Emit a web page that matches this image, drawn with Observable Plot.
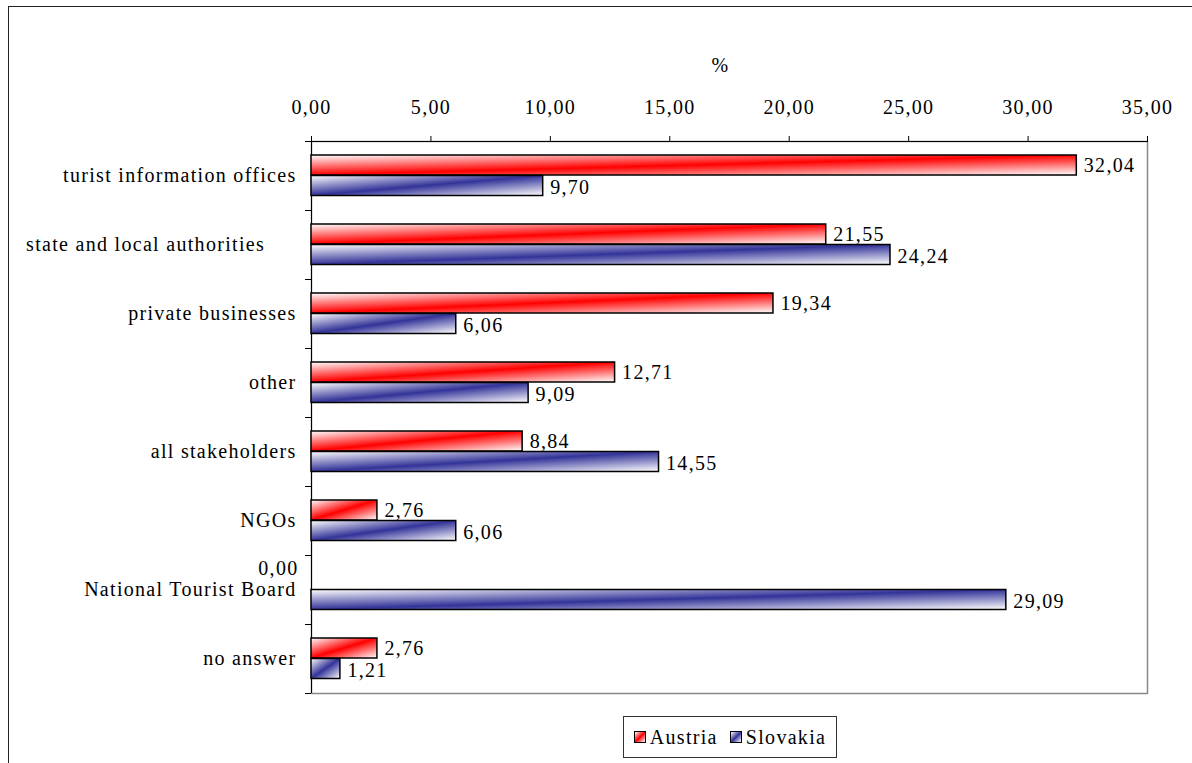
<!DOCTYPE html>
<html>
<head>
<meta charset="utf-8">
<script src="https://cdn.jsdelivr.net/npm/d3@7"></script>
<script src="https://cdn.jsdelivr.net/npm/@observablehq/plot@0.6"></script>
<style>
  html, body { margin: 0; padding: 0; background: #fff; overflow: hidden; }
  body { width: 1192px; height: 763px; position: relative; font-family: "Liberation Serif", "Times New Roman", serif; }
  #outer { position: absolute; left: 8px; top: 6px; width: 1300px; height: 900px; border: 1.5px solid #222; box-sizing: border-box; }
  #chart { position: absolute; left: 0; top: 0; }
  #chart svg text { white-space: pre; letter-spacing: 1.3px; }
  #legend { position: absolute; left: 623px; top: 716px; width: 214px; height: 42px; box-sizing: border-box;
            border: 1px solid #333; display: flex; align-items: center; justify-content: center; gap: 12px;
            font-size: 20px; letter-spacing: 1.3px; color: #000; }
  .item { display: flex; align-items: center; gap: 4px; }
  .sw { width: 12px; height: 12px; border: 1.5px solid #000; box-sizing: border-box; }
</style>
</head>
<body>
<div id="outer"></div>
<div id="chart"></div>
<div id="legend"></div>
<script>
// Who is responsible: share of answers (%) by country
const categories = [
  "turist information offices",
  "state and local authorities     ",
  "private businesses",
  "other",
  "all stakeholders",
  "NGOs",
  "National Tourist Board",
  "no answer"
];
const austria = [32.04, 21.55, 19.34, 12.71, 8.84, 2.76, 0.00, 2.76];
const slovakia = [9.70, 24.24, 6.06, 9.09, 14.55, 6.06, 29.09, 1.21];
const series = ["Austria", "Slovakia"];
const seriesColors = ["#ff0000", "#333399"];
const xTicks = [0, 5, 10, 15, 20, 25, 30, 35];

const rows = [];
categories.forEach((c, i) => {
  rows.push({category: c, series: "Austria", value: austria[i]});
  rows.push({category: c, series: "Slovakia", value: slovakia[i]});
});
const at = rows.filter(d => d.series === "Austria");
const sk = rows.filter(d => d.series === "Slovakia");
const fmt = v => v.toFixed(2).replace(".", ",");

// gradient fills: white - colour - white along the bar's diagonal
const gradId = s => "grad-" + s.toLowerCase();
const defs = () => {
  const g = d3.create("svg:defs");
  series.forEach((s, i) => {
    const lg = g.append("linearGradient").attr("id", gradId(s))
      .attr("x1", 0).attr("y1", 0).attr("x2", 1).attr("y2", 1);
    lg.append("stop").attr("offset", "0%").attr("stop-color", "#ffffff");
    lg.append("stop").attr("offset", "50%").attr("stop-color", seriesColors[i]);
    lg.append("stop").attr("offset", "100%").attr("stop-color", "#ffffff");
  });
  return g.node();
};

const plot = Plot.plot({
  width: 1192,
  height: 700,
  marginLeft: 311,
  marginRight: 45,
  marginTop: 141,
  marginBottom: 7,
  style: {fontFamily: "'Liberation Serif', 'Times New Roman', serif", fontSize: "20px", color: "#000", background: "transparent"},
  x: {domain: [0, 35], axis: null},
  y: {domain: categories, padding: 0, axis: null},
  marks: [
    defs,
    Plot.frame({stroke: "#888", strokeWidth: 1.5}),
    // top value axis
    Plot.axisX({anchor: "top", ticks: xTicks, tickFormat: fmt, tickSize: 6, tickPadding: 22, label: null, stroke: "#000"}),
    Plot.frame({anchor: "top", stroke: "#000", strokeWidth: 1}),
    Plot.text(["%"], {frameAnchor: "top", dx: -9, dy: -84}),
    // category axis: labels at band centres, ticks at band edges
    Plot.axisY({anchor: "left", tickSize: 0, tickPadding: 15, label: null}),
    Plot.axisY({anchor: "left", tickSize: 6, text: null, dy: -34.5, label: null}),
    Plot.axisY(categories.slice(-1), {anchor: "left", tickSize: 6, text: null, dy: 34.5, label: null}),
    Plot.ruleX([0], {stroke: "#000", strokeWidth: 1}),
    // bars
    Plot.barX(at.filter(d => d.value > 0), {x: "value", y: "category", insetTop: 14, insetBottom: 35,
      fill: `url(#${gradId("Austria")})`, stroke: "#000", strokeWidth: 1.5}),
    Plot.barX(sk.filter(d => d.value > 0), {x: "value", y: "category", insetTop: 34.5, insetBottom: 14.5,
      fill: `url(#${gradId("Slovakia")})`, stroke: "#000", strokeWidth: 1.5}),
    // value labels
    Plot.text(at.filter(d => d.value > 0), {x: "value", y: "category", text: d => fmt(d.value),
      textAnchor: "start", dx: 7, dy: -10}),
    Plot.text(at.filter(d => d.value === 0), {x: "value", y: "category", text: d => fmt(d.value),
      textAnchor: "end", dx: -13, dy: -21}),
    Plot.text(sk, {x: "value", y: "category", text: d => fmt(d.value),
      textAnchor: "start", dx: 7, dy: 12})
  ]
});
document.getElementById("chart").appendChild(plot);

// legend
const legend = d3.select("#legend");
series.forEach(s => {
  const it = legend.append("div").attr("class", "item");
  it.append("div").attr("class", "sw")
    .style("background", `linear-gradient(135deg, #fff 0%, ${seriesColors[series.indexOf(s)]} 50%, #fff 100%)`);
  it.append("span").text(s);
});
</script>
</body>
</html>
